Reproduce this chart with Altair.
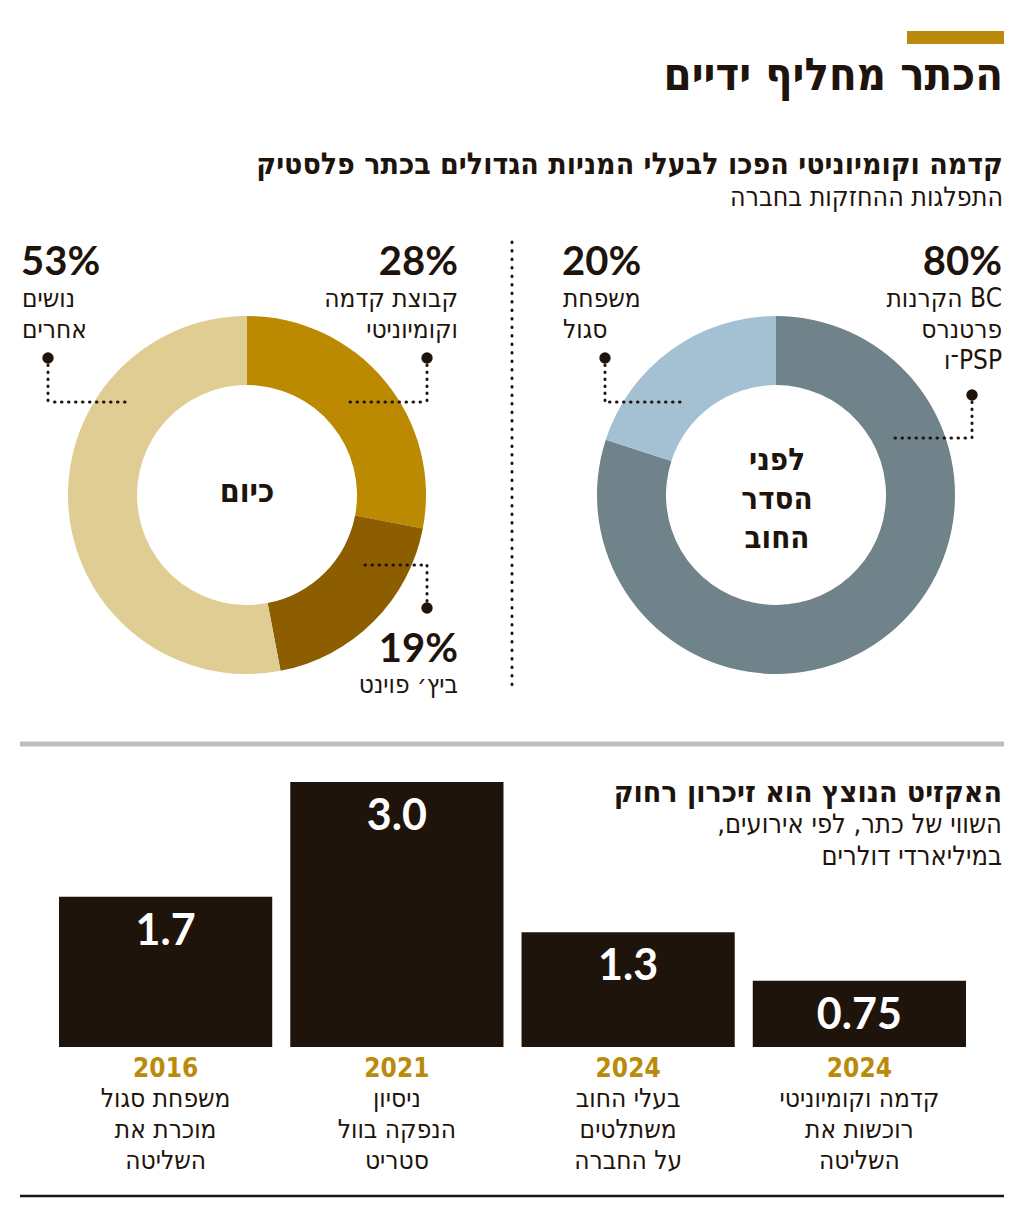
import altair as alt
import pandas as pd

DARK = "#1F140C"
GOLD = "#BA8A0A"
HEB = "DejaVu Sans Condensed"
NUM = "Lato"
OFF = 8

# ---- data ----
today_labels = ["קבוצת קדמה וקומיוניטי", "ביץ׳ פוינט", "נושים אחרים"]
today_values = [28, 19, 53]
today_colors = ["#BC8A00", "#8C5E00", "#DFCD94"]

before_labels = ["הקרנות BC פרטנרס ו־PSP", "משפחת סגול"]
before_values = [80, 20]
before_colors = ["#70828A", "#A3C1D3"]

event_years = ["2016", "2021", "2024", "2024"]
event_values = [1.7, 3.0, 1.3, 0.75]
event_value_labels = ["1.7", "3.0", "1.3", "0.75"]
event_desc = [
    ["משפחת סגול", "מוכרת את", "השליטה"],
    ["ניסיון", "הנפקה בוול", "סטריט"],
    ["בעלי החוב", "משתלטים", "על החברה"],
    ["קדמה וקומיוניטי", "רוכשות את", "השליטה"],
]


def T(s, x, y, size, weight="normal", color=DARK, align="right", font=HEB, lh=None):
    kw = dict(align=align, baseline="alphabetic", font=font, fontSize=size,
              fontWeight=weight, color=color)
    if lh:
        kw["lineBreak"] = "\n"
        kw["lineHeight"] = lh
    return alt.Chart(pd.DataFrame({"t": [s]})).mark_text(**kw).encode(
        text="t:N", x=alt.value(x - OFF), y=alt.value(y - OFF))


def R(x1, y1, x2, y2, color=DARK, width=3.0, dash=None, cap="butt"):
    kw = dict(color=color, strokeWidth=width, strokeCap=cap)
    if dash:
        kw["strokeDash"] = dash
    return alt.Chart(pd.DataFrame({"a": [0]})).mark_rule(**kw).encode(
        x=alt.value(x1 - OFF), x2=alt.value(x2 - OFF),
        y=alt.value(y1 - OFF), y2=alt.value(y2 - OFF))


def DOT(x, y):
    return alt.Chart(pd.DataFrame({"a": [0]})).mark_circle(
        size=130, color=DARK, opacity=1).encode(x=alt.value(x - OFF), y=alt.value(y - OFF))


def leader(dx, dy, vy, hx):
    dots = [0.5, 6.5]
    return [
        R(dx, dy, dx, vy, dash=dots, cap="round", width=3),
        R(hx, vy, dx, vy, dash=dots, cap="round", width=3),
        DOT(dx, dy),
    ]


LBL = 26
LLH = 31
PCT = 40
layers = []

# header
layers.append(alt.Chart(pd.DataFrame({"a": [0]})).mark_rect(color=GOLD).encode(
    x=alt.value(907 - OFF), x2=alt.value(1004 - OFF), y=alt.value(31 - OFF), y2=alt.value(44 - OFF)))
layers.append(T("הכתר מחליף ידיים", 1003, 90, 45, "bold"))
layers.append(T("קדמה וקומיוניטי הפכו לבעלי המניות הגדולים בכתר פלסטיק", 1003, 174, 30, "bold"))
layers.append(T("התפלגות ההחזקות בחברה", 1003, 206, 26.5))

# donuts
today_df = pd.DataFrame({"label": today_labels, "value": today_values, "order": list(range(3))})
before_df = pd.DataFrame({"label": before_labels, "value": before_values, "order": list(range(2))})

for df, labels, colors, cx in [(today_df, today_labels, today_colors, 247),
                               (before_df, before_labels, before_colors, 776)]:
    layers.append(alt.Chart(df).mark_arc(radius=179, radius2=110).encode(
        theta=alt.Theta("value:Q", stack=True, scale=alt.Scale(domain=[0, 100])),
        color=alt.Color("label:N", scale=alt.Scale(domain=labels, range=colors), legend=None),
        order=alt.Order("order:Q"),
        x=alt.value(cx - OFF), y=alt.value(495 - OFF)))

# separator
layers.append(R(512, 242, 512, 692, dash=[0.5, 8], cap="round", width=3))

# labels left donut
layers.append(T(f"{today_values[0]}%", 458, 275, PCT, "bold", font=NUM))
layers.append(T("קבוצת קדמה\nוקומיוניטי", 458, 307, LBL, lh=LLH))
layers.append(T(f"{today_values[2]}%", 21, 275, PCT, "bold", align="left", font=NUM))
layers.append(T("נושים\nאחרים", 22, 307, LBL, align="left", lh=LLH))
layers.append(T(f"{today_values[1]}%", 458, 662, PCT, "bold", font=NUM))
layers.append(T("ביץ׳ פוינט", 458, 693, LBL))
layers += leader(427, 358, 402, 350)
layers += leader(48, 358, 402, 125)
layers += leader(427, 608, 565, 365)
layers.append(T("כיום", 247, 502, 32, "bold", align="center"))

# labels right donut
layers.append(T(f"{before_values[0]}%", 1002, 275, PCT, "bold", font=NUM))
layers.append(T("הקרנות BC\nפרטנרס\n\u202Dו־PSP\u202C", 1002, 307, LBL, lh=LLH))
layers.append(T(f"{before_values[1]}%", 562, 275, PCT, "bold", align="left", font=NUM))
layers.append(T("משפחת\nסגול", 563, 307, LBL, align="left", lh=LLH))
layers += leader(972, 395, 438, 895)
layers += leader(605, 358, 402, 680)
layers.append(T("לפני\nהסדר\nהחוב", 777, 470, 31, "bold", align="center", lh=39))

# divider
layers.append(R(20, 744, 1004, 744, color="#BDBDBD", width=5))

# bar section header
layers.append(T("האקזיט הנוצץ הוא זיכרון רחוק", 1002, 802, 30, "bold"))
layers.append(T("השווי של כתר, לפי אירועים,\u200F\nבמיליארדי דולרים", 1002, 833, 27, lh=32))

bars_df = pd.DataFrame({
    "idx": list(range(len(event_values))),
    "value": event_values,
    "vlabel": event_value_labels,
    "year": event_years,
    "desc": ["\n".join(d) for d in event_desc],
})
xs = alt.X("idx:O", scale=alt.Scale(range=[50 - OFF, 975 - OFF], paddingInner=0.078,
                                    paddingOuter=0.039), axis=None)
ys = alt.Y("value:Q", scale=alt.Scale(domain=[0, 3], range=[1047 - OFF, 782 - OFF],
                                      nice=False, zero=True), axis=None)
base = alt.Chart(bars_df)
layers.append(base.mark_bar(color=DARK).encode(x=xs, y=ys))
layers.append(base.mark_text(color="white", font=NUM, fontWeight="bold", fontSize=43,
                             baseline="alphabetic", dy=48).encode(x=xs, y=ys, text="vlabel:N"))
layers.append(base.mark_text(color=GOLD, font=HEB, fontWeight="bold", fontSize=26,
                             baseline="alphabetic").encode(x=xs, y=alt.value(1077 - OFF), text="year:N"))
layers.append(base.mark_text(color=DARK, font=HEB, fontSize=26, baseline="alphabetic",
                             lineBreak="\n", lineHeight=31).encode(
    x=xs, y=alt.value(1107 - OFF), text="desc:N"))

# bottom rule
layers.append(R(20, 1196, 1004, 1196, width=2.5))

chart = alt.layer(*layers).properties(
    width=1008, height=1190, padding=0, autosize="none"
).resolve_scale(color="independent").configure_view(stroke=None)

chart.save("out.html", embed_options={"renderer": "svg", "actions": False})
